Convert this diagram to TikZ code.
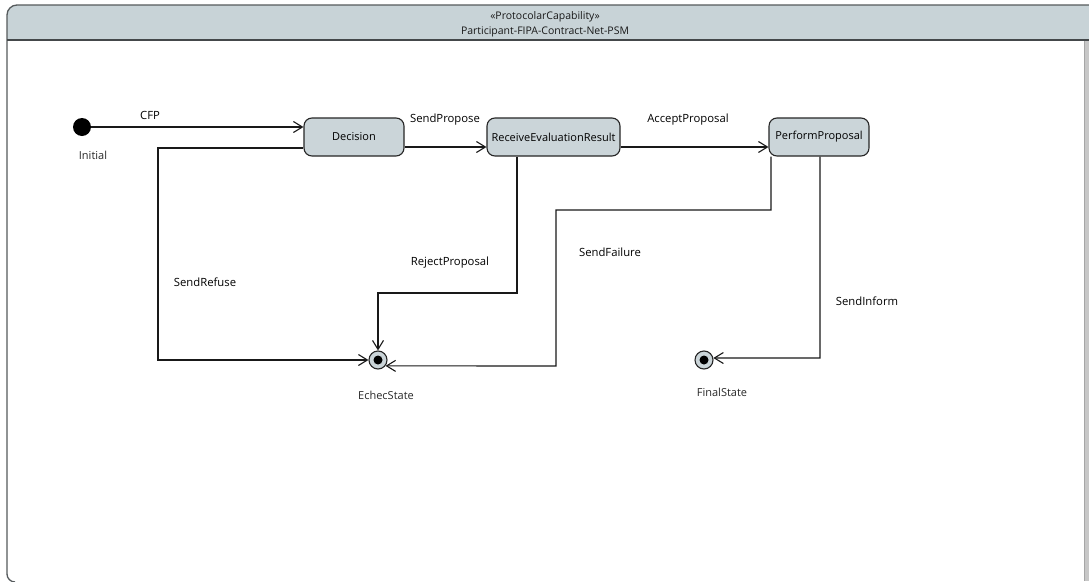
\documentclass[tikz,border=0pt]{standalone}
\usepackage{fontspec}
\setmainfont{Open Sans}
\usetikzlibrary{arrows.meta}
\definecolor{hdr}{RGB}{200,211,215}
\definecolor{boxfill}{RGB}{203,213,217}
\definecolor{frame}{RGB}{85,90,92}
\definecolor{lbl}{RGB}{40,40,40}
\tikzset{
  statebox/.style={draw=black!85, line width=1.1pt, fill=boxfill, rounded corners=8pt, minimum height=38pt, inner sep=1pt, font=\fontsize{11}{13}\selectfont},
  trans/.style={draw=black!90, line width=1.1pt, -{Straight Barb[length=9pt,width=11pt,line width=1.1pt]}},
  elabel/.style={font=\fontsize{11.3}{13}\selectfont, text=black, inner sep=0pt},
  slabel/.style={font=\fontsize{11}{13}\selectfont, text=lbl, inner sep=0pt},
  finalst/.style={circle, draw=black!85, line width=1.1pt, fill=boxfill, minimum size=18pt, inner sep=0pt},
}
\begin{document}
\begin{tikzpicture}[x=1pt,y=-1pt]
\useasboundingbox (0,0) rectangle (1089,581);
% frame
\fill[white] (0,0) rectangle (1089,581);
\fill[hdr] (7,40) -- (7,15) arc[start angle=180,end angle=270,radius=10] -- (1089,5) -- (1089,40) -- cycle;
\draw[frame, line width=1.3pt] (7,574) -- (7,15) arc[start angle=180,end angle=270,radius=10] -- (1089,5);
\draw[frame!80!black, line width=1.7pt] (7,40) -- (1089,40);
\draw[frame, line width=1.3pt] (7,574) arc[start angle=180,end angle=90,radius=8];
\fill[black!22] (1084,41) rectangle (1089,581);
\draw[black!35, line width=0.5pt] (1084,41) -- (1084,581);
\node[font=\fontsize{10.5}{12}\selectfont, text=black!90] (stereo) at (545,16.5) {«ProtocolarCapability»};
\node[font=\fontsize{10.5}{12}\selectfont, text=black!90] (title) at (545,32) {Participant-FIPA-Contract-Net-PSM};

% states
\node[circle, fill=black, minimum size=18pt, inner sep=0pt] (Initial) at (82,127) {};
\node[statebox, minimum width=100pt] (Decision) at (354,137) {Decision};
\node[statebox, minimum width=133pt] (Receive) at (553.5,137) {ReceiveEvaluationResult};
\node[statebox, minimum width=100pt] (Perform) at (819,137) {PerformProposal};
\node[finalst] (Echec) at (378,360) {};
\node[circle, fill=black, minimum size=9pt, inner sep=0pt] (EchecDot) at (Echec) {};
\node[finalst] (Final) at (704,360) {};
\node[circle, fill=black, minimum size=9pt, inner sep=0pt] (FinalDot) at (Final) {};

% state labels
\node[slabel] (InitialL) at (93,155) {Initial};
\node[slabel] (EchecL) at (386,395) {EchecState};
\node[slabel] (FinalL) at (722,392) {FinalState};

% transitions
\draw[trans] (Initial) -- (Decision.west |- Initial);
\draw[trans] (Decision.east |- 0,147) -- (Receive.west |- 0,147);
\draw[trans] (Receive.east |- 0,147) -- (Perform.west |- 0,147);
\draw[trans] (Decision.west |- 0,148) -- (158,148) -- (158,360) -- (Echec.west);
\draw[trans] (Receive.south -| 517,0) -- (517,293) -- (378,293) -- (Echec.north);
\draw[trans] (Perform.south -| 771,0) -- (771,210) -- (556,210) -- (556,366) -- (Echec.-38);
\draw[trans] (Perform.south -| 820,0) -- (820,358) -- (Final.12);

% transition labels
\node[elabel] (lCFP) at (150,115) {CFP};
\node[elabel] (lSP) at (445,120) {SendPropose};
\node[elabel] (lAP) at (688,120) {AcceptProposal};
\node[elabel] (lSR) at (205,282) {SendRefuse};
\node[elabel] (lRP) at (450,263) {RejectProposal};
\node[elabel] (lSF) at (610,252) {SendFailure};
\node[elabel] (lSI) at (867,301) {SendInform};
\end{tikzpicture}
\end{document}
